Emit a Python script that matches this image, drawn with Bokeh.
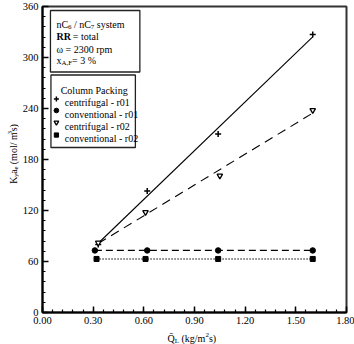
import numpy as np
from bokeh.plotting import figure
from bokeh.layouts import column, row
from bokeh.models import Label, FixedTicker, CustomJSTickFormatter, Range1d
from bokeh.embed import file_html
from bokeh.resources import INLINE

# Measured mass-transfer coefficients vs. liquid load
cent_r01_q = [0.33, 0.62, 1.04, 1.60]
cent_r01_k = [80, 143, 210, 327]
conv_r01_q = [0.31, 0.62, 1.04, 1.60]
conv_r01_k = [73, 73, 73, 73]
cent_r02_q = [0.33, 0.61, 1.05, 1.60]
cent_r02_k = [82, 118, 161, 238]
conv_r02_q = [0.32, 0.61, 1.04, 1.60]
conv_r02_k = [63, 63, 63, 63]

x_ticks = [0.0, 0.3, 0.6, 0.9, 1.2, 1.5, 1.8]
y_ticks = [0, 60, 120, 180, 240, 300, 360]

FONT = "Liberation Serif"
NB = "\u00a0"
W, H = 354, 344
LEFT, TOP, FW, FH = 40, 6, 306, 306     # plot frame on the page
YT_W = 19                                # strip holding the y title
MAIN_H = 328                             # strip below holds the x title
XMAX, YMAX = 1.8, 360

p = figure(width=W - YT_W, height=MAIN_H, output_backend="svg", toolbar_location=None,
           x_range=Range1d(0, XMAX), y_range=Range1d(0, YMAX),
           min_border_left=LEFT - YT_W, min_border_right=W - LEFT - FW,
           min_border_top=TOP, min_border_bottom=MAIN_H - TOP - FH)
p.grid.visible = False
p.background_fill_color = "white"
p.border_fill_color = "white"
p.outline_line_color = "#333333"
p.outline_line_width = 2

for ax, ticks in ((p.xaxis, x_ticks), (p.yaxis, y_ticks)):
    ax.ticker = FixedTicker(ticks=ticks,
                            minor_ticks=list(np.round(np.linspace(ticks[0], ticks[-1], 31), 4)))
    ax.axis_line_color = "black"
    ax.axis_line_width = 2
    ax.major_tick_in = 6
    ax.major_tick_out = 0
    ax.minor_tick_in = 3
    ax.minor_tick_out = 0
    ax.major_tick_line_width = 1.5
    ax.minor_tick_line_width = 1.2
    ax.major_label_text_font = FONT
    ax.major_label_text_font_size = "10.5px"
    ax.major_label_text_color = "black"
p.xaxis.formatter = CustomJSTickFormatter(code="return tick.toFixed(2);")
p.yaxis.formatter = CustomJSTickFormatter(code="return tick.toFixed(0);")
p.xaxis.major_label_standoff = 4
p.yaxis.major_label_standoff = 4


def dx(cx):
    """page pixel x -> data x"""
    return (cx - LEFT) * XMAX / FW


def dy(cy):
    """page pixel y -> data y"""
    return (TOP + FH - cy) * YMAX / FH


# Key boxes first, so that everything else sits on top of them
p.quad(left=[dx(48), dx(48.5)], right=[dx(138), dx(133.5)],
       top=[dy(10), dy(74.5)], bottom=[dy(71.5), dy(147)],
       fill_color="white", line_color="#222222", line_width=1.3)

# Least-squares trend lines for the centrifugal packing
for q, k, dash in ((cent_r01_q, cent_r01_k, "solid"), (cent_r02_q, cent_r02_k, "9 6")):
    a, b = np.polyfit(q, k, 1)
    xs = np.array([min(q), max(q)])
    p.line(xs, a * xs + b, line_color="black", line_width=1.1, line_dash=dash)

# Conventional packing: points joined directly
p.line(conv_r01_q, conv_r01_k, line_color="black", line_width=1.3, line_dash="7 4")
p.line(conv_r02_q, conv_r02_k, line_color="black", line_width=1.4, line_dash="1 2")

MARKS = {
    "cent_r01": dict(marker="cross", size=6, fill_color="black", line_width=1.5),
    "conv_r01": dict(marker="circle", size=5.5, fill_color="black", line_width=1),
    "cent_r02": dict(marker="inverted_triangle", size=5.5, fill_color="white", line_width=1.3),
    "conv_r02": dict(marker="square", size=5, fill_color="black", line_width=1),
}
p.scatter(cent_r01_q, cent_r01_k, line_color="black", **MARKS["cent_r01"])
p.scatter(conv_r01_q, conv_r01_k, line_color="black", **MARKS["conv_r01"])
p.scatter(cent_r02_q, cent_r02_k, line_color="black", **MARKS["cent_r02"])
p.scatter(conv_r02_q, conv_r02_k, line_color="black", **MARKS["conv_r02"])

# character advance widths (Times-like, per 1000 em)
ADV = {" ": 250, NB: 250, "(": 333, ")": 333, "/": 278, "%": 833, "=": 564, ",": 250,
       "-": 333, "A": 722, "C": 667, "F": 556, "K": 722, "L": 611, "Q": 722, "R": 667,
       "P": 556, "a": 444, "c": 444, "e": 444, "f": 333, "g": 500, "i": 278, "k": 500,
       "l": 278, "m": 778, "n": 500, "o": 500, "p": 500, "r": 333, "s": 389, "t": 278,
       "u": 500, "v": 500, "x": 500, "y": 500, "ω": 686, "\u0304": 0}


def text_width(s, size, bold=False):
    w = sum(ADV.get(c, 500) for c in s) * size / 1000
    return w * (1.05 if bold else 1.0)


def run(fig, to_x, to_y, segments, cx, cy, angle=0.0):
    """Draw text segments (text, size, shift, bold) one after another."""
    pos = 0.0
    for txt, size, shift, bold in segments:
        if angle == 0:
            x, y = cx + pos, cy + shift
        else:
            x, y = cx + shift, cy - pos
        fig.add_layout(Label(x=to_x(x), y=to_y(y), text=txt.replace(" ", NB), angle=angle,
                             text_font=FONT, text_font_size=f"{size}px",
                             text_font_style="bold" if bold else "normal",
                             text_color="black", text_baseline="alphabetic",
                             text_align="left"))
        pos += text_width(txt, size, bold)


# Operating conditions
run(p, dx, dy, [("nC", 10, 0, False), ("6", 7, 2.5, False), (" / nC", 10, 0, False),
                ("7", 7, 2.5, False), (" system", 10, 0, False)], 54, 23.5)
run(p, dx, dy, [("RR", 10, 0, True), (" = total", 10, 0, False)], 54, 36)
run(p, dx, dy, [("ω = 2300 rpm", 10, 0, False)], 54, 48.5)
run(p, dx, dy, [("x", 10, 0, False), ("A,F", 7, 2.5, False), ("= 3 %", 10, 0, False)], 54, 59.5)

# Packing key (slightly smaller symbols than on the curves)
p.add_layout(Label(x=dx(92), y=dy(89.5), text="Column Packing", text_font=FONT,
                   text_font_size="10px", text_color="black", text_align="center",
                   text_baseline="alphabetic"))
key_labels = ["centrifugal - r01", "conventional - r01", "centrifugal - r02", "conventional - r02"]
key_rows = [98.5, 110, 122, 134.5]
for lab, key, rw in zip(key_labels, MARKS, key_rows):
    style = dict(MARKS[key])
    style["size"] = style["size"] * 0.85
    p.scatter([dx(54)], [dy(rw)], line_color="black", **style)
    p.add_layout(Label(x=dx(62.5), y=dy(rw + 3.5), text=lab, text_font=FONT,
                       text_font_size="10px", text_color="black",
                       text_baseline="alphabetic"))


def strip(w, h):
    f = figure(width=w, height=h, output_backend="svg", toolbar_location=None,
               x_axis_location=None, y_axis_location=None, min_border=0,
               x_range=Range1d(0, w), y_range=Range1d(h, 0))
    f.grid.visible = False
    f.outline_line_color = None
    f.background_fill_color = "white"
    f.border_fill_color = "white"
    return f


# y title strip (left of the plot), page coordinates
ystrip = strip(YT_W, MAIN_H)
run(ystrip, lambda v: v, lambda v: v,
    [("K", 10, 0, False), ("y", 7, 2.2, False), ("a", 10, 0, False), ("e", 7, 2.2, False),
     (" (mol/ m", 10, 0, False), ("3", 7, -4, False), ("s)", 10, 0, False)],
    13, 190, angle=np.pi / 2)

# x title strip (below the plot)
xstrip = strip(W, H - MAIN_H)
run(xstrip, lambda v: v, lambda v: v - MAIN_H,
    [("Q\u0304", 10, 0, False), ("L", 7, 2.5, False), (" (kg/m", 10, 0, False),
     ("2", 7, -4, False), ("s)", 10, 0, False)], 167, 338)

page = column(row(ystrip, p, spacing=0), xstrip, spacing=0)
open("out.html", "w").write(file_html(page, INLINE))
